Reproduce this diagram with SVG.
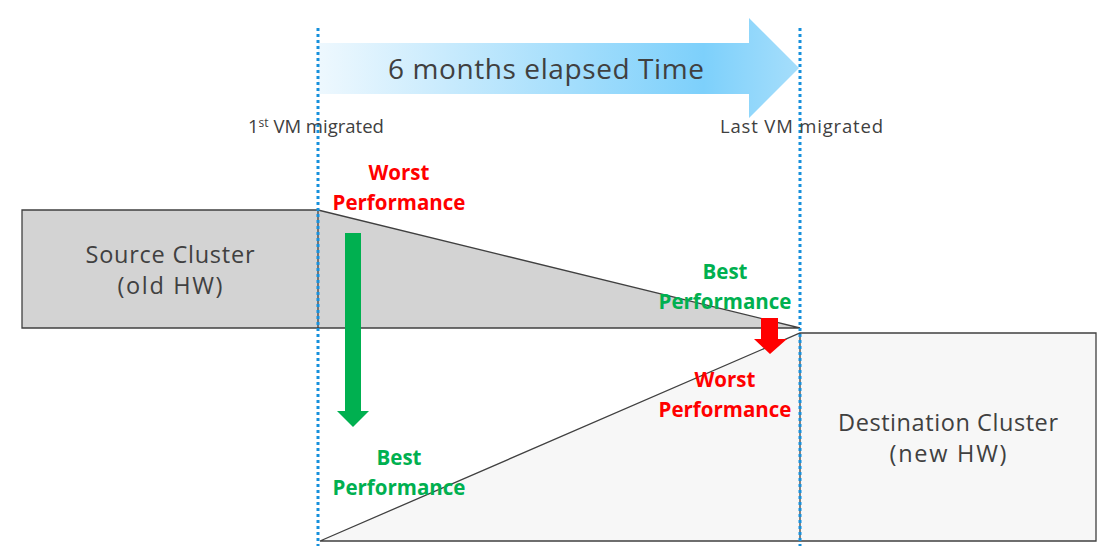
<svg xmlns="http://www.w3.org/2000/svg" width="1120" height="546" viewBox="0 0 1120 546">
<defs>
<linearGradient id="tg" x1="318" y1="0" x2="800" y2="0" gradientUnits="userSpaceOnUse">
<stop offset="0" stop-color="#eef8fe"/>
<stop offset="0.8" stop-color="#7dd0fb"/>
<stop offset="1" stop-color="#a6defb"/>
</linearGradient>
<style>
.gray{font-family:"Open Sans","Liberation Sans",sans-serif;fill:#404040}
.perf{font-family:"Open Sans","Liberation Sans",sans-serif;font-weight:bold;font-size:20.5px;text-anchor:middle}
.red{fill:#ff0000}
.green{fill:#00b050}
.shape{stroke:#404040;stroke-width:1.3}
.dot{stroke:#1690dc;stroke-width:3;stroke-dasharray:3 3;fill:none}
</style>
</defs>
<rect width="1120" height="546" fill="#ffffff"/>
<g id="source">
<polygon class="shape" points="22,210 318,210 800,328 22,328" fill="#d3d3d3"/>
<line class="shape" x1="318" y1="210" x2="318" y2="328"/>
<text class="gray" font-size="23.5" x="170" y="263" text-anchor="middle" textLength="169">Source Cluster</text>
<text class="gray" font-size="23.5" x="170" y="294" text-anchor="middle" textLength="105">(old HW)</text>
</g>
<g id="destination">
<polygon class="shape" points="320,541 800,333 1096,333 1096,541" fill="#f7f7f7"/>
<line class="shape" x1="800" y1="333" x2="800" y2="541"/>
<text class="gray" font-size="23.5" x="948" y="431" text-anchor="middle" textLength="220">Destination Cluster</text>
<text class="gray" font-size="23.5" x="948" y="462" text-anchor="middle" textLength="117">(new HW)</text>
</g>
<g id="time-arrow">
<polygon points="318,43 749,43 749,18 799,68 749,118 749,94 318,94" fill="url(#tg)"/>
<text class="gray" font-size="28" x="546" y="79" text-anchor="middle" textLength="316">6 months elapsed Time</text>
</g>
<g id="connectors">
<line class="dot" x1="318" y1="28" x2="318" y2="546"/>
<line class="dot" x1="800" y1="28" x2="800" y2="546"/>
<polygon points="345,233 361,233 361,411 369,411 353,427 337,411 345,411" fill="#00b050"/>
<polygon points="761,318 778,318 778,339 787,339 770,354 754,339 761,339" fill="#ff0000"/>
</g>
<g id="labels">
<text class="gray" font-size="18.5" x="248" y="133">1<tspan font-size="12" dy="-6">st</tspan><tspan dy="6"> VM migrated</tspan></text>
<text class="gray" font-size="18.5" x="720" y="133" textLength="163">Last VM migrated</text>
<text class="perf red" x="399" y="180">Worst</text>
<text class="perf red" x="399" y="210">Performance</text>
<text class="perf green" x="725" y="279">Best</text>
<text class="perf green" x="725" y="309">Performance</text>
<text class="perf red" x="725" y="387">Worst</text>
<text class="perf red" x="725" y="417">Performance</text>
<text class="perf green" x="399" y="465">Best</text>
<text class="perf green" x="399" y="495">Performance</text>
</g>
</svg>
